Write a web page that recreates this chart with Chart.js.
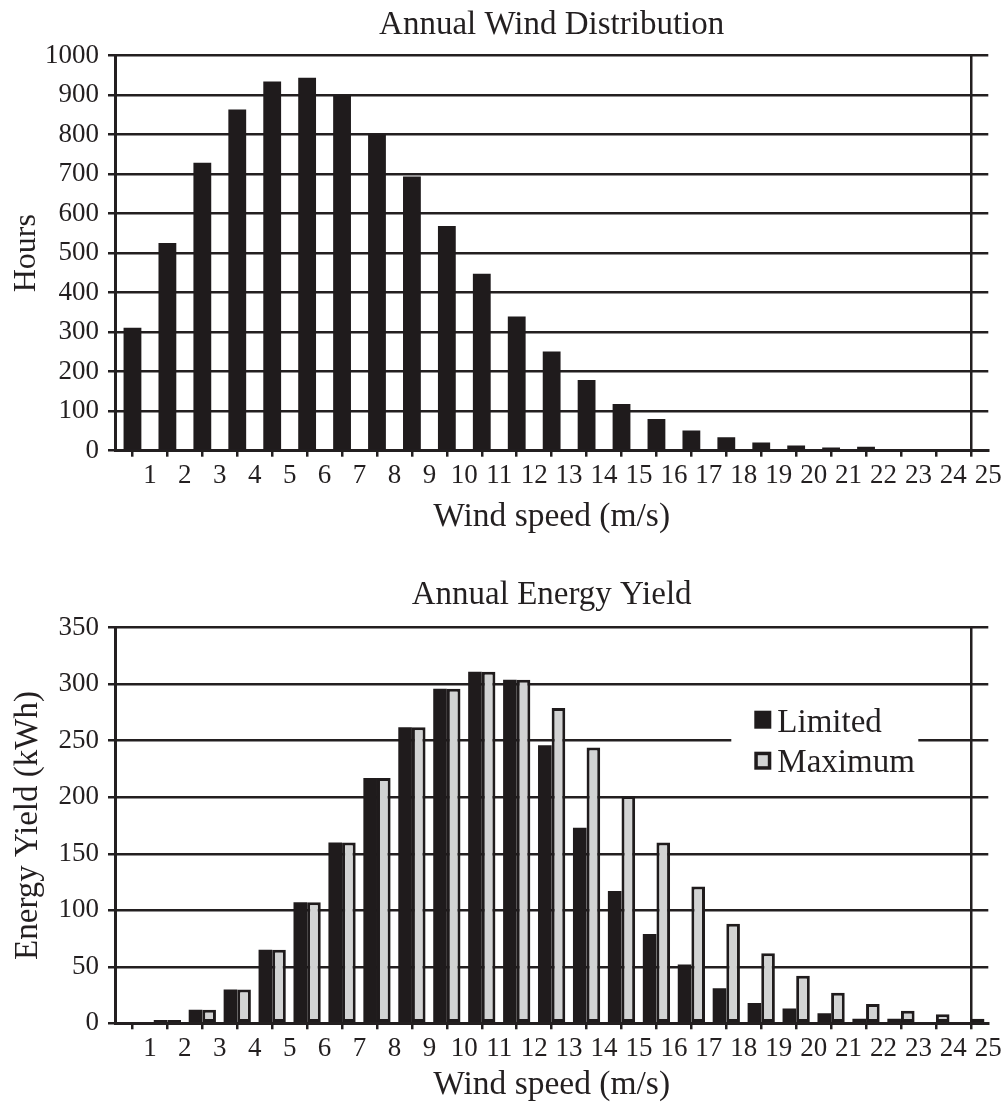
<!DOCTYPE html>
<html>
<head>
<meta charset="utf-8">
<title>Annual Wind Distribution / Annual Energy Yield</title>
<script src="https://cdn.jsdelivr.net/npm/chart.js@4.4.1/dist/chart.umd.min.js"></script>
<style>
  html, body { margin: 0; padding: 0; background: #fff; }
  #wrap { position: relative; width: 1008px; height: 1102px; }
  canvas { position: absolute; left: 0; }
  #wind-chart { top: 0; }
  #yield-chart { top: 545px; }
</style>
</head>
<body>
<div id="wrap">
  <canvas id="wind-chart" width="1008" height="545"></canvas>
  <canvas id="yield-chart" width="1008" height="557"></canvas>
</div>
<script>
// --- DATA ---
// each bar sits in the middle of a 1 m/s wind speed bin
const windSpeedBins = [0.5, 1.5, 2.5, 3.5, 4.5, 5.5, 6.5, 7.5, 8.5, 9.5, 10.5, 11.5, 12.5,
  13.5, 14.5, 15.5, 16.5, 17.5, 18.5, 19.5, 20.5, 21.5, 22.5, 23.5, 24.5];
const xTickLabels = ["1", "2", "3", "4", "5", "6", "7", "8", "9", "10", "11", "12", "13",
  "14", "15", "16", "17", "18", "19", "20", "21", "22", "23", "24", "25"];

const hoursPerYear = [311, 526, 729, 864, 935, 944, 900, 801, 694, 569, 448, 340, 251,
  179, 118, 80, 51, 34, 21, 13, 8, 10, 0, 0, 0];

const limitedYield = [0, 3, 12, 30, 65, 107, 160, 217, 262, 296, 311, 304, 246,
  173, 117, 79, 52, 31, 18, 13, 9, 4, 4, 0, 0];
const maximumYield = [0, 3, 12, 30, 65, 107, 160, 217, 262, 296, 311, 304, 279,
  244, 201, 160, 121, 88, 62, 42, 27, 17, 11, 8, 4];

// --- STYLE ---
const INK = "#231f20";
const BAR_DARK = "#1f1b1c";
const BAR_LIGHT = "#d2d3d3";
const FONT = "'Liberation Serif', 'Times New Roman', serif";

Chart.defaults.font.family = FONT;
Chart.defaults.color = INK;

// --- HELPERS ---
const toPoints = (values) => values.map((y, i) => ({ x: windSpeedBins[i], y }));

const buildOptions = (cfg) => ({
  responsive: false,
  animation: false,
  layout: { padding: { left: 0, right: 19.7, top: 0, bottom: 0 } },
  plugins: {
    legend: { display: false },
    tooltip: { enabled: false },
    title: {
      display: true,
      text: cfg.title,
      color: INK,
      // centred over the plot area rather than the whole canvas
      fullSize: false,
      font: { size: 33, weight: "normal" },
      padding: cfg.titlePad,
    },
  },
  scales: {
    x: {
      type: "linear",
      min: 0,
      max: 25,
      offset: false,
      afterFit: (scale) => { scale.height = cfg.xHeight; },
      grid: {
        // only the right frame edge is drawn across the plot, the rest are tick marks
        color: (ctx) => (ctx.tick && ctx.tick.value === 25 ? INK : "rgba(0,0,0,0)"),
        tickColor: INK,
        lineWidth: 2.5,
        tickLength: 6,
      },
      border: { color: INK, width: 3 },
      ticks: {
        stepSize: 1,
        autoSkip: false,
        maxRotation: 0,
        padding: cfg.xTickPad,
        color: INK,
        font: { size: 27 },
        callback: (value) => (value === 0 ? "" : xTickLabels[value - 1]),
      },
      title: {
        display: true,
        text: "Wind speed (m/s)",
        color: INK,
        font: { size: 33.5 },
        padding: { top: 0, bottom: cfg.xTitlePad },
      },
    },
    y: {
      min: 0,
      max: cfg.yMax,
      afterFit: (scale) => { scale.width = 115; },
      grid: { color: INK, lineWidth: 2.5, tickLength: 7 },
      border: { color: INK, width: 3 },
      ticks: {
        stepSize: cfg.yStep,
        padding: 9,
        color: INK,
        font: { size: 27 },
        callback: (value) => String(value),
      },
      title: {
        display: true,
        text: cfg.yTitle,
        color: INK,
        font: { size: cfg.yTitleSize },
        padding: { top: cfg.yTitlePad, bottom: 0 },
      },
    },
  },
});

// legend box sitting inside the plot, over the 250 grid line
const insideLegend = {
  id: "insideLegend",
  afterDraw(chart) {
    const { ctx, chartArea } = chart;
    const x0 = chartArea.right - 257;
    const y0 = chartArea.top + 67;
    ctx.save();
    ctx.fillStyle = "#fff";
    ctx.fillRect(x0, y0, 187, 90);
    ctx.font = `33px ${FONT}`;
    ctx.textBaseline = "alphabetic";
    ctx.textAlign = "left";
    chart.data.datasets.forEach((ds, i) => {
      const sx = x0 + 23;
      const sy = y0 + 16 + i * 41;
      ctx.fillStyle = ds.borderColor || ds.backgroundColor;
      ctx.fillRect(sx, sy, 17, 18);
      if (ds.borderWidth) {
        ctx.fillStyle = ds.backgroundColor;
        ctx.fillRect(sx + 3.5, sy + 3.5, 10, 11);
      }
      ctx.fillStyle = INK;
      ctx.fillText(ds.label, x0 + 46, y0 + 37 + i * 40);
    });
    ctx.restore();
  },
};

// --- CHARTS ---
const renderWindChart = () => {
  const canvas = document.getElementById("wind-chart");
  return new Chart(canvas.getContext("2d"), {
    type: "bar",
    data: {
      datasets: [
        {
          label: "Hours",
          data: toPoints(hoursPerYear),
          backgroundColor: BAR_DARK,
          borderWidth: 0,
          barPercentage: 0.51,
          categoryPercentage: 1,
        },
      ],
    },
    options: buildOptions({
      title: "Annual Wind Distribution",
      titlePad: { top: 5.2, bottom: 10.9 },
      yTitle: "Hours",
      yTitleSize: 32,
      yTitlePad: 7,
      yMax: 1000,
      yStep: 100,
      xHeight: 94.3,
      xTickPad: 3,
      xTitlePad: 8,
    }),
  });
};

const renderYieldChart = () => {
  const canvas = document.getElementById("yield-chart");
  return new Chart(canvas.getContext("2d"), {
    type: "bar",
    data: {
      datasets: [
        {
          label: "Limited",
          data: toPoints(limitedYield),
          backgroundColor: BAR_DARK,
          borderWidth: 0,
          barPercentage: 1,
          categoryPercentage: 0.78,
        },
        {
          label: "Maximum",
          data: toPoints(maximumYield),
          backgroundColor: BAR_LIGHT,
          borderColor: BAR_DARK,
          borderWidth: 3,
          borderSkipped: false,
          barPercentage: 1,
          categoryPercentage: 0.78,
        },
      ],
    },
    options: buildOptions({
      title: "Annual Energy Yield",
      titlePad: { top: 30.1, bottom: 13 },
      yTitle: "Energy Yield (kWh)",
      yTitleSize: 33,
      yTitlePad: 8.4,
      yMax: 350,
      yStep: 50,
      xHeight: 78.7,
      xTickPad: 3.5,
      xTitlePad: -3,
    }),
    plugins: [insideLegend],
  });
};

renderWindChart();
renderYieldChart();
</script>
</body>
</html>
